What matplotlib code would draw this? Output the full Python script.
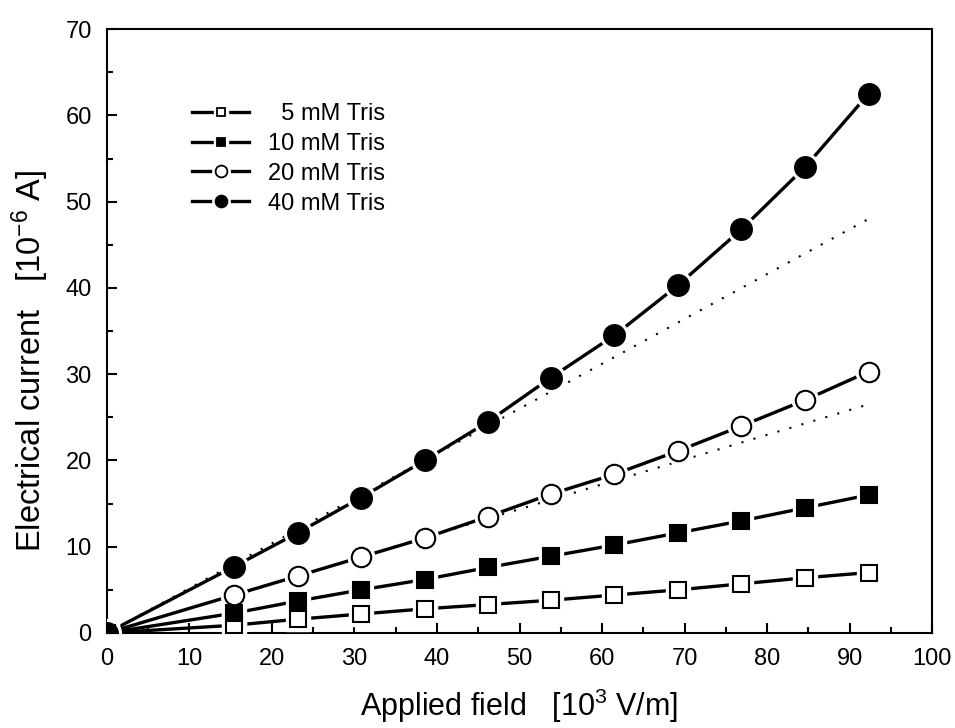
import matplotlib
matplotlib.use('Agg')
import matplotlib.pyplot as plt
from matplotlib.ticker import MultipleLocator
from matplotlib.lines import Line2D

plt.rcParams['font.family'] = ['Liberation Sans', 'DejaVu Sans']
plt.rcParams['mathtext.fontset'] = 'custom'
plt.rcParams['mathtext.rm'] = 'Liberation Sans'
plt.rcParams['mathtext.default'] = 'regular'

# ── data ──────────────────────────────────────────────────────────────────────
field = [0, 15.4, 23.1, 30.8, 38.5, 46.2, 53.8, 61.5, 69.2, 76.9, 84.6, 92.3]
tris5 = [0, 0.9, 1.6, 2.2, 2.8, 3.3, 3.8, 4.4, 5.0, 5.7, 6.4, 7.0]
tris10 = [0, 2.3, 3.7, 5.0, 6.2, 7.6, 8.9, 10.2, 11.6, 13.0, 14.5, 16.0]
tris20 = [0, 4.4, 6.6, 8.8, 11.0, 13.5, 16.1, 18.4, 21.1, 24.0, 27.0, 30.3]
tris40 = [0, 7.7, 11.6, 15.7, 20.0, 24.5, 29.6, 34.5, 40.3, 46.8, 54.0, 62.5]

# linear (ohmic) extrapolations drawn as dotted lines
lin_x = [0, 92.3]
lin20 = [0, 26.5]
lin40 = [0, 48.0]

labels = ['  5 mM Tris', '10 mM Tris', '20 mM Tris', '40 mM Tris']
values = [tris5, tris10, tris20, tris40]
markers = ['s', 's', 'o', 'o']
faces = ['white', 'black', 'white', 'black']
sizes = [12, 12, 14, 15]

fig = plt.figure(figsize=(9.55, 7.28), dpi=100)
ax = fig.add_axes([0.112, 0.1305, 0.864, 0.8295])

ax.plot(lin_x, lin20, ls=(0, (1, 5)), color='black', lw=1.5, zorder=1)
ax.plot(lin_x, lin40, ls=(0, (1, 5)), color='black', lw=1.5, zorder=1)

handles = []
for y, mk, fc, ms in zip(values, markers, faces, sizes):
    ax.plot(field, y, '-', color='black', lw=2.4, zorder=2)
    # white halo so the line breaks around each marker
    ax.plot(field, y, mk, ls='none', ms=ms + 5, mfc='white', mec='white', zorder=3)
    ax.plot(field, y, mk, ls='none', ms=ms, mfc=fc, mec='black', mew=1.5, zorder=4)
    lms = 6 if mk == 's' else 8.5
    handles.append((
        Line2D([], [], color='black', lw=2.4),
        Line2D([], [], ls='none', marker=mk, ms=lms + 4, mfc='white', mec='white'),
        Line2D([], [], ls='none', marker=mk, ms=lms, mfc=fc, mec='black', mew=1.3),
    ))

ax.set_xlim(0, 100)
ax.set_ylim(0, 70)
ax.xaxis.set_major_locator(MultipleLocator(10))
ax.xaxis.set_minor_locator(MultipleLocator(5))
ax.yaxis.set_major_locator(MultipleLocator(10))
ax.yaxis.set_minor_locator(MultipleLocator(5))
ax.tick_params(which='both', direction='in', top=False, right=False,
               labelsize=17, width=1.5)
ax.tick_params(which='major', length=7, pad=11)
ax.tick_params(which='minor', length=4)
for sp in ax.spines.values():
    sp.set_linewidth(1.5)

ax.set_xlabel('Applied field   [10$^3$ V/m]', fontsize=22, labelpad=12)
ax.set_ylabel('Electrical current   [10$^{-6}$ A]', fontsize=23.5)
ax.yaxis.set_label_coords(-0.068, 0.45)

ax.legend(handles, labels, loc='upper left',
          bbox_to_anchor=(0.092, 0.893), frameon=False, fontsize=17,
          handlelength=2.4, handletextpad=0.8, labelspacing=0.33,
          borderaxespad=0)

fig.savefig('out.png', dpi=100)
